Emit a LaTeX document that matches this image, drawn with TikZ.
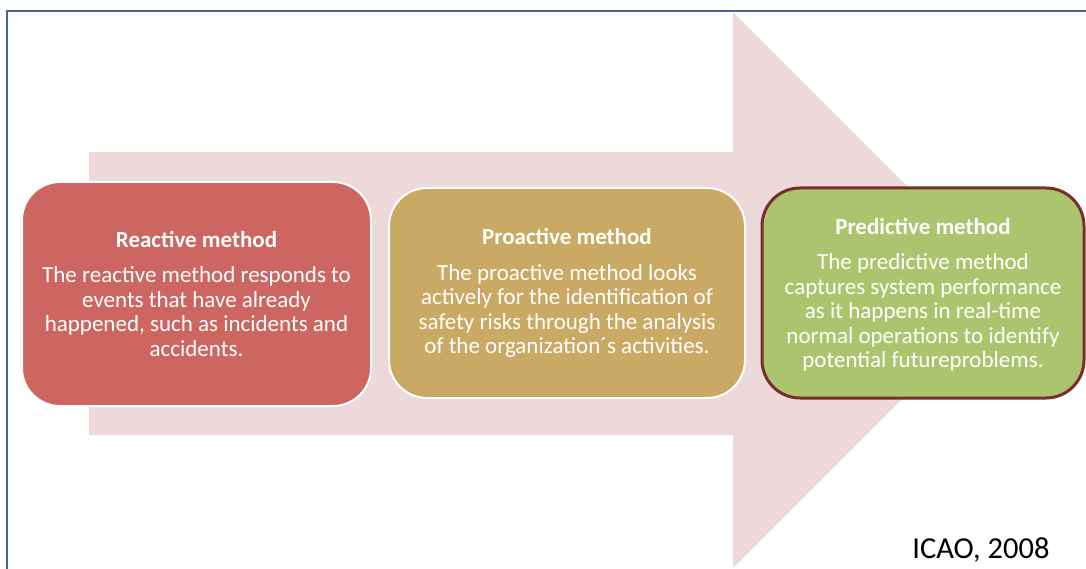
\documentclass[tikz,border=0pt]{standalone}
\usepackage{fontspec}
\setmainfont{Carlito}
\definecolor{framecol}{HTML}{4F6688}
\definecolor{arrowpink}{HTML}{EDD9DA}
\definecolor{reactred}{HTML}{CD6660}
\definecolor{proacttan}{HTML}{C9A963}
\definecolor{predictgreen}{HTML}{ABC46D}
\definecolor{predictrim}{HTML}{7A2E2B}
\begin{document}
\begin{tikzpicture}[
  x=1pt, y=-1pt,
  method/.style={rectangle, rounded corners=38pt, draw=white, line width=2pt,
    text=white, align=center, inner sep=0pt,
    font=\fontsize{23}{24.5}\selectfont},
  reactbox/.style={method, fill=reactred, minimum width=349pt, minimum height=224pt},
  proactbox/.style={method, fill=proacttan, minimum width=356pt, minimum height=210pt},
  predictbox/.style={method, fill=predictgreen, draw=predictrim, line width=3pt,
    minimum width=322pt, minimum height=210pt},
  source/.style={font=\fontsize{30.5}{34}\selectfont, text=black}
]
\useasboundingbox (0,0) rectangle (1086,569);
% big background arrow
\fill[arrowpink] (89,152) -- (733,152) -- (733,12) -- (1011,290)
  -- (733,568) -- (733,435) -- (89,435) -- cycle;
% slide frame
\draw[framecol, line width=1.2pt] (1086,11) -- (7,11) -- (7,569);

\node[reactbox] (reactive) at (196.5,294) {\textbf{Reactive method}\\[11pt]
  The reactive method responds to\\ events that have already\\
  happened, such as incidents and\\ accidents.};
\node[proactbox] (proactive) at (567,293) {\textbf{Proactive method}\\[11pt]
  The proactive method looks\\ actively for the identification of\\
  safety risks through the analysis\\ of the organization´s activities.};
\node[predictbox, text depth=0pt] (predictive) at (923,293) {\textbf{Predictive method}\\[11pt]
  The predictive method\\ captures system performance\\
  as it happens in real-time\\ normal operations to identify\\
  potential futureproblems.};

\node[source] (icao) at (981,550) {ICAO, 2008};
\end{tikzpicture}
\end{document}
